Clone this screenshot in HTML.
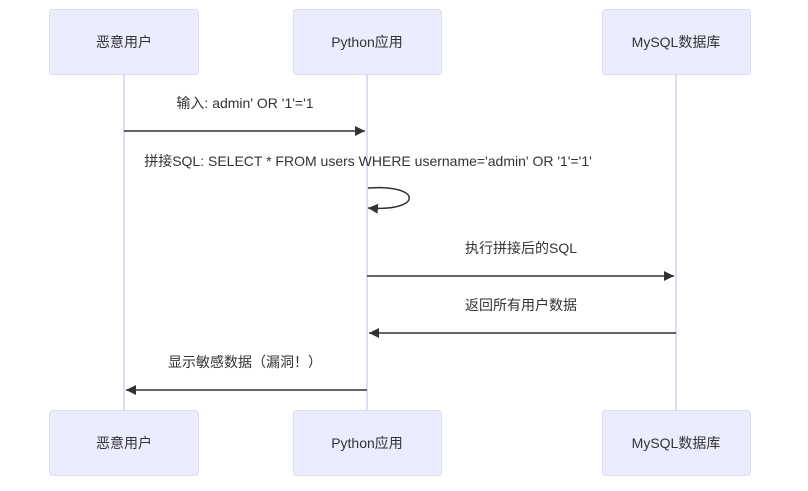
<!DOCTYPE html>
<html><head><meta charset="utf-8"><style>
html,body{margin:0;padding:0;background:#fff;}
svg{display:block;}
text{font-family:"Liberation Sans","Noto Sans CJK SC",sans-serif;font-size:14px;fill:#333;}
</style></head><body>
<svg width="808" height="491" viewBox="0 0 808 491" xmlns="http://www.w3.org/2000/svg">
<defs><marker id="a" markerWidth="12" markerHeight="12" refX="10" refY="5" orient="auto" markerUnits="userSpaceOnUse"><path d="M0,0 L10,5 L0,10 z" fill="#333"/></marker></defs>
<g stroke="#e0dcf7" stroke-width="2">
<line x1="124" y1="74" x2="124" y2="410"/>
<line x1="367" y1="74" x2="367" y2="410"/>
<line x1="676" y1="74" x2="676" y2="410"/>
</g>
<g fill="#ececff" stroke="#e0dcf7" stroke-width="1">
<rect x="49.5" y="9.5" width="149" height="65" rx="3"/>
<rect x="293.5" y="9.5" width="148" height="65" rx="3"/>
<rect x="602.5" y="9.5" width="148" height="65" rx="3"/>
<rect x="49.5" y="410.5" width="149" height="65" rx="3"/>
<rect x="293.5" y="410.5" width="148" height="65" rx="3"/>
<rect x="602.5" y="410.5" width="148" height="65" rx="3"/>
</g>
<g text-anchor="middle">
<text x="124" y="47">恶意用户</text>
<text x="367" y="47">Python应用</text>
<text x="676" y="47">MySQL数据库</text>
<text x="124" y="448">恶意用户</text>
<text x="367" y="448">Python应用</text>
<text x="676" y="448">MySQL数据库</text>
<text x="245" y="108">输入: admin' OR '1'='1</text>
<text x="368" y="166">拼接SQL: SELECT * FROM users WHERE username='admin' OR '1'='1'</text>
<text x="521" y="253">执行拼接后的SQL</text>
<text x="521" y="310">返回所有用户数据</text>
<text x="245" y="367">显示敏感数据（漏洞！）</text>
</g>
<g stroke="#333" stroke-width="1.5" fill="none" marker-end="url(#a)">
<line x1="124" y1="131" x2="365" y2="131"/>
<path d="M368,188 C423,184 423,212 368,208"/>
<line x1="367" y1="276" x2="674" y2="276"/>
<line x1="676" y1="333" x2="369" y2="333"/>
<line x1="367" y1="390" x2="126" y2="390"/>
</g>
</svg>
</body></html>
